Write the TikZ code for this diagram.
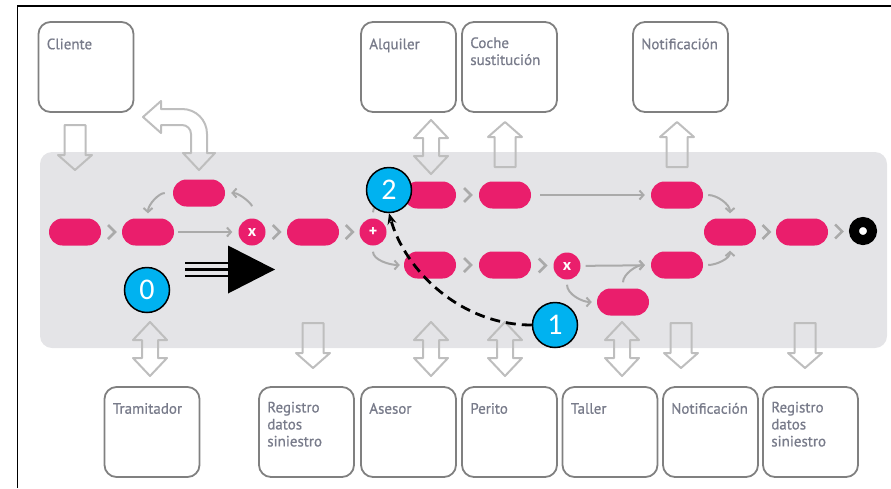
\documentclass[tikz,border=0pt]{standalone}
\usepackage{fontspec}
\setmainfont{PT Sans}
\newfontfamily\actorfont{PT Sans}[FakeBold=0.7]
\newfontfamily\badgefont{Carlito}
\usetikzlibrary{positioning}
\usetikzlibrary{calc}
\usetikzlibrary{arrows.meta}
\definecolor{pinkc}{RGB}{234,30,108}
\definecolor{lanegray}{RGB}{228,228,231}
\definecolor{boxline}{RGB}{128,128,128}
\definecolor{boxtext}{RGB}{120,123,138}
\definecolor{flowgray}{RGB}{170,170,170}
\definecolor{blockgray}{RGB}{190,190,190}
\definecolor{badgeblue}{RGB}{0,178,240}
\tikzset{x=1pt, y=1pt,
    lane/.style={
        fill=lanegray,
        rounded corners=12pt,
        minimum width=847pt,
        minimum height=196pt},
    actor/.style={
        draw=boxline,
        line width=1.8pt,
        rounded corners=12pt,
        minimum width=95pt,
        minimum height=90pt},
    actortext/.style={
        anchor=north west,
        align=left,
        inner sep=0pt,
        text=boxtext,
        execute at begin node=\strut,
        font=\actorfont\fontsize{15}{17}\selectfont},
    task/.style={
        fill=pinkc,
        rounded corners=13.5pt,
        minimum width=52pt,
        minimum height=27pt},
    gate/.style={
        circle,
        fill=pinkc,
        minimum size=27pt,
        inner sep=0pt,
        text=white,
        font=\bfseries\fontsize{16}{16}\selectfont},
    endevent/.style={
        circle,
        draw=black,
        line width=10pt,
        fill=white,
        minimum size=18pt,
        inner sep=0pt},
    badge/.style={
        circle,
        draw=black,
        line width=1.5pt,
        fill=badgeblue,
        minimum size=45pt,
        inner sep=0pt,
        text=white,
        font=\badgefont\fontsize{30}{30}\selectfont},
    flow/.style={
        draw=flowgray,
        line width=2pt,
        -{Straight Barb[length=4pt,width=9pt]}},
    chevline/.style={draw=flowgray, line width=2.5pt},
    blockline/.style={draw=blockgray, line width=2pt, line join=round},
    pics/chev/.style={code={
        \draw[chevline] (-3.5,7) -- (3.5,0) -- (-3.5,-7);}},
    pics/blockdown/.style={code={
        \draw[blockline] (-10.5,0) -- (10.5,0) -- (10.5,-30) -- (17,-30)
            -- (0,-45) -- (-17,-30) -- (-10.5,-30) -- cycle;}},
    pics/blockboth/.style={code={
        \draw[blockline] (0,0) -- (17,-18) -- (8,-18) -- (8,-36) -- (17,-36)
            -- (0,-54) -- (-17,-36) -- (-8,-36) -- (-8,-18) -- (-17,-18) -- cycle;}}}
\newcommand{\seqchev}[2]{\pic at ($(#1.east)!0.5!(#2.west)$) {chev};}

\begin{document}
\begin{tikzpicture}
    \useasboundingbox (0,0) rectangle (891,-488);
    \draw[line width=1.5pt] (17.5,-488) -- (17.5,-6) -- (891,-6);

    % lane
    \node[lane] (lane) at (463.5,-250) {};

    % actors above
    \node[actor] (cliente) at (86,-67) {};
    \node[actor] (alquiler) at (408.5,-67) {};
    \node[actor] (coche) at (509.5,-67) {};
    \node[actor] (notifa) at (680.5,-67) {};
    \node[actortext] (cliente-t) at ($(cliente.north west)+(9,-16)$) {Cliente};
    \node[actortext] (alquiler-t) at ($(alquiler.north west)+(9,-16)$) {Alquiler};
    \node[actortext] (coche-t) at ($(coche.north west)+(9,-16)$) {Coche\\sustitución};
    \node[actortext] (notifa-t) at ($(notifa.north west)+(9,-16)$) {Notificación};

    % actors below
    \node[actor] (tramitador) at (152,-432) {};
    \node[actor] (registroa) at (306.5,-432) {};
    \node[actor] (asesor) at (408.5,-432) {};
    \node[actor] (perito) at (509.5,-432) {};
    \node[actor] (taller) at (610,-432) {};
    \node[actor] (notifb) at (710.5,-432) {};
    \node[actor] (registrob) at (810.5,-432) {};
    \node[actortext] (tramitador-t) at ($(tramitador.north west)+(9,-15.5)$) {Tramitador};
    \node[actortext] (registroa-t) at ($(registroa.north west)+(9,-15.5)$) {Registro\\datos\\siniestro};
    \node[actortext] (asesor-t) at ($(asesor.north west)+(9,-15.5)$) {Asesor};
    \node[actortext] (perito-t) at ($(perito.north west)+(9,-15.5)$) {Perito};
    \node[actortext] (taller-t) at ($(taller.north west)+(9,-15.5)$) {Taller};
    \node[actortext] (notifb-t) at ($(notifb.north west)+(9,-15.5)$) {Notificación};
    \node[actortext] (registrob-t) at ($(registrob.north west)+(9,-15.5)$) {Registro\\datos\\siniestro};

    % block arrows between actors and lane
    \pic at (75,-125) {blockdown};
    \draw[blockline] (143,-117) -- (161,-101) -- (161,-109) -- (182,-109)
        .. controls (196,-109) and (207,-120) .. (207,-134) -- (207,-153)
        -- (215,-153) -- (199,-170) -- (183,-153) -- (191,-153) -- (191,-134)
        .. controls (191,-129) and (187,-125) .. (182,-125) -- (161,-125)
        -- (161,-133) -- cycle;
    \pic at (431,-120) {blockboth};
    \pic[rotate=180] at (505,-167) {blockdown};
    \pic[rotate=180] at (677,-167) {blockdown};
    \pic at (150,-322) {blockboth};
    \pic at (313,-323) {blockdown};
    \pic at (431,-322) {blockboth};
    \pic at (505,-322) {blockboth};
    \pic at (622,-322) {blockboth};
    \pic at (681,-323) {blockdown};
    \pic at (805,-323) {blockdown};

    % process
    \node[task] (p1) at (75,-232) {};
    \node[task] (p2) at (148,-232) {};
    \node[task] (loop) at (199,-193) {};
    \node[gate] (g1) at (252,-232) {x};
    \node[task] (p3) at (313,-232) {};
    \node[gate] (gp) at (373,-232) {+};
    \node[task] (p4) at (430,-195) {};
    \node[task] (p5) at (505,-195) {};
    \node[task] (p6) at (677,-195) {};
    \node[task] (p7) at (430,-265) {};
    \node[task] (p8) at (505,-265) {};
    \node[gate] (g2) at (567,-266) {x};
    \node[task] (p9) at (677,-265) {};
    \node[task] (p10) at (623,-302) {};
    \node[task] (p11) at (730,-232) {};
    \node[task] (p12) at (802,-232) {};
    \node[endevent] (end) at (863,-231) {};

    \seqchev{p1}{p2}
    \seqchev{g1}{p3}
    \seqchev{p3}{gp}
    \seqchev{p4}{p5}
    \seqchev{p7}{p8}
    \seqchev{p8}{g2}
    \seqchev{p11}{p12}
    \seqchev{p12}{end}

    \draw[flow, shorten <=4pt, shorten >=6pt] (p2) -- (g1);
    \draw[flow, shorten <=12pt, shorten >=6pt] (g1.north) to[out=90,in=0] (loop.east);
    \draw[flow, shorten <=8pt, shorten >=5pt] (loop.west) to[out=180,in=90] (p2.north);
    \draw[flow, shorten <=6pt, shorten >=4pt] (gp.north) to[out=90,in=180] (p4.west);
    \draw[flow, shorten <=6pt, shorten >=4pt] (gp.south) to[out=-90,in=180] (p7.west);
    \draw[flow, shorten <=9pt, shorten >=6pt] (p5) -- (p6);
    \draw[flow, shorten <=5pt, shorten >=6pt] (g2) -- (p9);
    \draw[flow, shorten <=5pt, shorten >=5pt] (g2.south) to[out=-90,in=180] (p10.west);
    \draw[flow, shorten <=6pt, shorten >=6pt] (p10.north) to[out=90,in=180] (p9.west);
    \draw[flow, shorten <=5pt, shorten >=5pt] (p6.east) to[out=0,in=90] (p11.north);
    \draw[flow, shorten <=5pt, shorten >=5pt] (p9.east) to[out=0,in=-90] (p11.south);

    % annotations
    \node[badge] (b0) at (147,-290) {0};
    \node[badge] (b2) at (389,-190) {2};
    \node[badge] (b1) at (555,-325) {1};

    \draw[line width=2.8pt, dash pattern=on 10pt off 6pt, -{Stealth[length=11pt,width=9pt]}]
        (b1.west) .. controls (460,-325) and (405,-270) .. (b2.south);

    \coordinate (fat0) at (185,-269.5);
    \coordinate (fat1) at (275,-269.5);
    \foreach \dy in {-6.5,0,6.5}
        \draw[line width=2.6pt] ($(fat0)+(0,\dy)$) -- ++(47,0);
    \fill ($(fat1)+(-47,24)$) -- (fat1) -- ($(fat1)+(-47,-24)$) -- cycle;
\end{tikzpicture}
\end{document}
